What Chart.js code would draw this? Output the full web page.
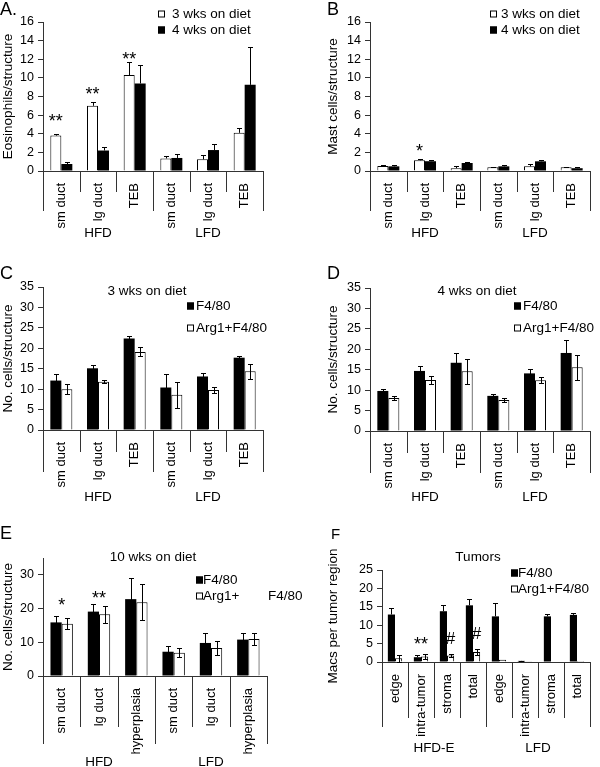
<!DOCTYPE html>
<html>
<head>
<meta charset="utf-8">
<script src="https://cdn.jsdelivr.net/npm/chart.js@4/dist/chart.umd.min.js"></script>
<style>
  body { margin: 0; background: #fff; width: 600px; height: 767px; position: relative; overflow: hidden; }
  canvas { position: absolute; }
</style>
</head>
<body>
<canvas id="chartA"></canvas>
<canvas id="chartB"></canvas>
<canvas id="chartC"></canvas>
<canvas id="chartD"></canvas>
<canvas id="chartE"></canvas>
<canvas id="chartF"></canvas>
<script>
// categories
const ductCats = ['sm duct', 'lg duct', 'TEB', 'sm duct', 'lg duct', 'TEB'];
const hyperCats = ['sm duct', 'lg duct', 'hyperplasia', 'sm duct', 'lg duct', 'hyperplasia'];
const tumorCats = ['edge', 'intra-tumor', 'stroma', 'total', 'edge', 'intra-tumor', 'stroma', 'total'];
const dietGroups = ['HFD', 'LFD'];
const tumorGroups = ['HFD-E', 'LFD'];

// A - eosinophils
const eos3wk = [3.8, 7.0, 10.3, 1.35, 1.25, 4.1];
const eos3wkErr = [0.15, 0.4, 1.4, 0.25, 0.45, 0.55];
const eos4wk = [0.75, 2.2, 9.4, 1.4, 2.25, 9.25];
const eos4wkErr = [0.2, 0.4, 2.0, 0.4, 0.6, 4.1];
const eosMarks = [{cat: 0, bar: 0, y: 5.8, text: '**'}, {cat: 1, bar: 0, y: 8.7, text: '**'}, {cat: 2, bar: 0, y: 12.45, text: '**'}];

// B - mast cells
const mast3wk = [0.55, 1.15, 0.3, 0.4, 0.5, 0.4];
const mast3wkErr = [0.12, 0.15, 0.27, 0.07, 0.2, 0.07];
const mast4wk = [0.5, 1.05, 0.86, 0.5, 1.04, 0.3];
const mast4wkErr = [0.1, 0.15, 0.07, 0.12, 0.1, 0.12];
const mastMarks = [{cat: 1, bar: 0, y: 2.6, text: '*'}];

// C - 3 wks
const c3F480 = [12.1, 15.1, 22.4, 10.4, 13.1, 17.7];
const c3F480Err = [1.5, 0.7, 0.6, 3.4, 0.8, 0.3];
const c3Arg1 = [10.0, 11.8, 19.1, 8.6, 9.8, 14.4];
const c3Arg1Err = [1.2, 0.4, 1.1, 3.2, 0.8, 1.8];

// D - 4 wks
const c4F480 = [9.8, 14.7, 16.7, 8.6, 14.1, 19.1];
const c4F480Err = [0.5, 1.3, 2.5, 0.4, 1.1, 3.1];
const c4Arg1 = [8.1, 12.5, 14.6, 7.6, 12.4, 15.6];
const c4Arg1Err = [0.45, 0.9, 3.0, 0.5, 0.7, 3.0];

// E - 10 wks
const c10F480 = [15.9, 19.1, 22.8, 7.2, 9.8, 10.8];
const c10F480Err = [1.9, 2.3, 6.2, 1.6, 2.9, 1.9];
const c10Arg1 = [15.5, 18.3, 21.9, 6.9, 8.3, 11.0];
const c10Arg1Err = [1.7, 2.5, 5.4, 1.4, 2.1, 1.7];
const c10Marks = [{cat: 0, bar: null, y: 22.5, text: '*'}, {cat: 1, bar: null, y: 24.6, text: '**'}];

// F - tumors
const tumF480 = [12.9, 1.3, 13.8, 15.4, 12.4, 0.3, 12.4, 12.8];
const tumF480Err = [1.8, 0.5, 1.7, 1.6, 3.7, 0.1, 0.6, 0.5];
const tumArg1 = [1.0, 1.5, 1.8, 2.7, 0.6, 0.2, 0.15, 0.3];
const tumArg1Err = [1.0, 0.6, 0.5, 0.9, 0, 0, 0, 0];
const tumMarks = [{cat: 1, bar: null, y: 6.0, text: '**'}, {cat: 2, bar: 1, y: 6.5, text: '#'}, {cat: 3, bar: 1, y: 7.9, text: '#'}];

const FONT = '"Liberation Sans", Arial, sans-serif';
const AXIS = '#333';

function extras(p) {
  return {
    id: 'extras' + p.id,
    afterDatasetsDraw(chart) {
      const ctx = chart.ctx, ys = chart.scales.y;
      ctx.save();
      ctx.strokeStyle = '#000';
      ctx.lineWidth = 1;
      p.series.forEach((s, di) => {
        chart.getDatasetMeta(di).data.forEach((bar, i) => {
          const e = s.err[i];
          if (!e) return;
          const x = Math.round(bar.x) + 0.5;
          const yTop = Math.round(ys.getPixelForValue(s.values[i] + e)) + 0.5;
          const yBot = s.both ? Math.round(ys.getPixelForValue(Math.max(0, s.values[i] - e))) + 0.5
                              : ys.getPixelForValue(s.values[i]);
          ctx.beginPath();
          ctx.moveTo(x, yTop); ctx.lineTo(x, yBot);
          ctx.moveTo(x - 2.5, yTop); ctx.lineTo(x + 2.5, yTop);
          if (s.both) { ctx.moveTo(x - 2.5, yBot); ctx.lineTo(x + 2.5, yBot); }
          ctx.stroke();
        });
      });
      ctx.restore();
    },
    afterDraw(chart) {
      const ctx = chart.ctx, xs = chart.scales.x, ys = chart.scales.y;
      const n = p.labels.length, base = xs.top;
      ctx.save();
      // category separators below the axis
      ctx.strokeStyle = AXIS;
      ctx.lineWidth = 1;
      for (let k = 0; k <= n; k++) {
        let x;
        if (k === 0) x = xs.left;
        else if (k === n) x = xs.right;
        else x = (xs.getPixelForValue(k - 1) + xs.getPixelForValue(k)) / 2;
        x = Math.round(x) + 0.5;
        const len = k % p.groupSize === 0 ? p.sepLong : p.sepShort;
        ctx.beginPath();
        ctx.moveTo(x, base);
        ctx.lineTo(x, base + len);
        ctx.stroke();
      }
      ctx.fillStyle = '#000';
      ctx.textBaseline = 'middle';
      ctx.textAlign = 'center';
      ctx.font = '13.5px ' + FONT;
      p.groups.forEach((g, gi) => {
        const a = xs.getPixelForValue(gi * p.groupSize);
        const b = xs.getPixelForValue(gi * p.groupSize + p.groupSize - 1);
        ctx.fillText(g, (a + b) / 2, base + p.groupDy);
      });
      // significance marks
      (p.marks || []).forEach(m => {
        const x = m.bar === null ? xs.getPixelForValue(m.cat) : chart.getDatasetMeta(m.bar).data[m.cat].x;
        const size = m.text === '#' ? 17 : 18;
        ctx.font = size + 'px ' + FONT;
        ctx.textBaseline = 'alphabetic';
        const off = m.text === '#' ? 0.36 : 0.58;
        ctx.fillText(m.text, x, ys.getPixelForValue(m.y) + off * size);
      });
      // legend
      ctx.textAlign = 'left';
      ctx.textBaseline = 'middle';
      ctx.font = '13.5px ' + FONT;
      p.legend.forEach(l => {
        const sx = l.x - p.left, sy = l.y - p.top;
        ctx.fillStyle = l.fill;
        ctx.fillRect(sx, sy - 3.5, 7, 7);
        ctx.strokeStyle = '#000';
        ctx.strokeRect(sx + 0.5, sy - 3, 6, 6);
        ctx.fillStyle = '#000';
        ctx.fillText(l.text, sx + l.dx, sy);
      });
      // free texts (panel letter, title)
      p.texts.forEach(t => {
        ctx.font = t.size + 'px ' + FONT;
        ctx.textAlign = t.align || 'left';
        ctx.fillText(t.text, t.x - p.left, t.y - p.top);
      });
      ctx.restore();
    }
  };
}

function makeChart(p) {
  const canvas = document.getElementById(p.id);
  canvas.width = p.w;
  canvas.height = p.h;
  canvas.style.left = p.left + 'px';
  canvas.style.top = p.top + 'px';
  return new Chart(canvas, {
    type: 'bar',
    data: {
      labels: p.labels,
      datasets: p.series.map(s => ({
        label: s.name,
        data: s.values,
        backgroundColor: s.fill,
        borderColor: '#000',
        borderWidth: s.fill === '#ffffff' ? 1 : 0,
        categoryPercentage: p.catPct,
        barPercentage: 1
      }))
    },
    options: {
      responsive: false,
      animation: false,
      layout: { padding: { left: p.padL, right: p.padR, top: p.padT, bottom: 0 } },
      plugins: { legend: { display: false }, tooltip: { enabled: false } },
      scales: {
        x: {
          grid: { display: false },
          border: { color: AXIS },
          ticks: { color: '#000', font: { family: FONT, size: 13 }, minRotation: 90, maxRotation: 90, padding: 4, autoSkip: false },
          afterFit: s => { s.height = p.xH; }
        },
        y: {
          min: 0,
          max: p.yMax,
          ticks: { stepSize: p.step, color: '#000', font: { family: FONT, size: 12.5 }, padding: 4 },
          grid: { drawOnChartArea: false, tickLength: 5, color: AXIS },
          border: { color: AXIS },
          title: { display: true, text: p.yTitle, color: '#000', font: { family: FONT, size: 13.5 }, padding: 0 },
          afterFit: s => { s.width = p.yW; }
        }
      }
    },
    plugins: [extras(p)]
  });
}

const BLACK = '#000000', WHITE = '#ffffff';

makeChart({
  id: 'chartA', left: 0, top: 0, w: 300, h: 245, padL: 0, yW: 43, padR: 37, padT: 22, xH: 74,
  yMax: 16, step: 2, yTitle: 'Eosinophils/structure', labels: ductCats, catPct: 0.6,
  series: [
    {name: '3 wks on diet', values: eos3wk, err: eos3wkErr, fill: WHITE, both: false},
    {name: '4 wks on diet', values: eos4wk, err: eos4wkErr, fill: BLACK, both: false}
  ],
  groups: dietGroups, groupSize: 3, sepShort: 21, sepLong: 40, groupDy: 62, marks: eosMarks,
  legend: [{x: 158, y: 14, fill: WHITE, text: '3 wks on diet', dx: 14}, {x: 158, y: 30, fill: BLACK, text: '4 wks on diet', dx: 14}],
  texts: [{text: 'A.', x: 0, y: 10, size: 18}]
});

makeChart({
  id: 'chartB', left: 300, top: 0, w: 300, h: 245, padL: 25, yW: 45, padR: 10, padT: 22, xH: 74,
  yMax: 16, step: 2, yTitle: 'Mast cells/structure', labels: ductCats, catPct: 0.6,
  series: [
    {name: '3 wks on diet', values: mast3wk, err: mast3wkErr, fill: WHITE, both: false},
    {name: '4 wks on diet', values: mast4wk, err: mast4wkErr, fill: BLACK, both: false}
  ],
  groups: dietGroups, groupSize: 3, sepShort: 21, sepLong: 40, groupDy: 62, marks: mastMarks,
  legend: [{x: 490, y: 14, fill: WHITE, text: '3 wks on diet', dx: 11}, {x: 490, y: 30, fill: BLACK, text: '4 wks on diet', dx: 11}],
  texts: [{text: 'B', x: 327, y: 10, size: 18}]
});

makeChart({
  id: 'chartC', left: 0, top: 255, w: 300, h: 255, padL: 0, yW: 43, padR: 37, padT: 32, xH: 80,
  yMax: 35, step: 5, yTitle: 'No. cells/structure', labels: ductCats, catPct: 0.6,
  series: [
    {name: 'F4/80', values: c3F480, err: c3F480Err, fill: BLACK, both: true},
    {name: 'Arg1+F4/80', values: c3Arg1, err: c3Arg1Err, fill: WHITE, both: true}
  ],
  groups: dietGroups, groupSize: 3, sepShort: 22, sepLong: 42, groupDy: 67,
  legend: [{x: 187, y: 306, fill: BLACK, text: 'F4/80', dx: 9}, {x: 187, y: 328, fill: WHITE, text: 'Arg1+F4/80', dx: 9}],
  texts: [{text: 'C', x: 0, y: 274, size: 18}, {text: '3 wks on diet', x: 147, y: 291, size: 13.5, align: 'center'}]
});

makeChart({
  id: 'chartD', left: 300, top: 255, w: 300, h: 255, padL: 25, yW: 45, padR: 10, padT: 33, xH: 79,
  yMax: 35, step: 5, yTitle: 'No. cells/structure', labels: ductCats, catPct: 0.6,
  series: [
    {name: 'F4/80', values: c4F480, err: c4F480Err, fill: BLACK, both: true},
    {name: 'Arg1+F4/80', values: c4Arg1, err: c4Arg1Err, fill: WHITE, both: true}
  ],
  groups: dietGroups, groupSize: 3, sepShort: 22, sepLong: 42, groupDy: 66,
  legend: [{x: 514, y: 306, fill: BLACK, text: 'F4/80', dx: 9}, {x: 514, y: 328, fill: WHITE, text: 'Arg1+F4/80', dx: 9}],
  texts: [{text: 'D', x: 327, y: 274, size: 18}, {text: '4 wks on diet', x: 477, y: 291, size: 13.5, align: 'center'}]
});

makeChart({
  id: 'chartE', left: 0, top: 520, w: 320, h: 247, padL: 0, yW: 43, padR: 53, padT: 38, xH: 91,
  yMax: 35, step: 5, yTitle: 'No. cells/structure', labels: hyperCats, catPct: 0.6,
  series: [
    {name: 'F4/80', values: c10F480, err: c10F480Err, fill: BLACK, both: true},
    {name: 'Arg1+ F4/80', values: c10Arg1, err: c10Arg1Err, fill: WHITE, both: true}
  ],
  groups: dietGroups, groupSize: 3, sepShort: 51, sepLong: 68, groupDy: 86, marks: c10Marks,
  legend: [{x: 196, y: 580, fill: BLACK, text: 'F4/80', dx: 7}, {x: 196, y: 596, fill: WHITE, text: 'Arg1+', dx: 7}],
  texts: [{text: 'E', x: 0, y: 534, size: 18}, {text: '10 wks on diet', x: 153, y: 557, size: 13.5, align: 'center'},
          {text: 'F4/80', x: 268, y: 596, size: 13.5}]
});

makeChart({
  id: 'chartF', left: 300, top: 520, w: 300, h: 247, padL: 25, yW: 57, padR: 10, padT: 50, xH: 105,
  yMax: 25, step: 5, yTitle: 'Macs per tumor region', labels: tumorCats, catPct: 0.55,
  series: [
    {name: 'F4/80', values: tumF480, err: tumF480Err, fill: BLACK, both: false},
    {name: 'Arg1+F4/80', values: tumArg1, err: tumArg1Err, fill: WHITE, both: true}
  ],
  groups: tumorGroups, groupSize: 4, sepShort: 56, sepLong: 65, groupDy: 86, marks: tumMarks,
  legend: [{x: 511, y: 573, fill: BLACK, text: 'F4/80', dx: 7}, {x: 511, y: 589, fill: WHITE, text: 'Arg1+F4/80', dx: 7}],
  texts: [{text: 'F', x: 331, y: 535, size: 15}, {text: 'Tumors', x: 478, y: 557, size: 13.5, align: 'center'}]
});
</script>
</body>
</html>
